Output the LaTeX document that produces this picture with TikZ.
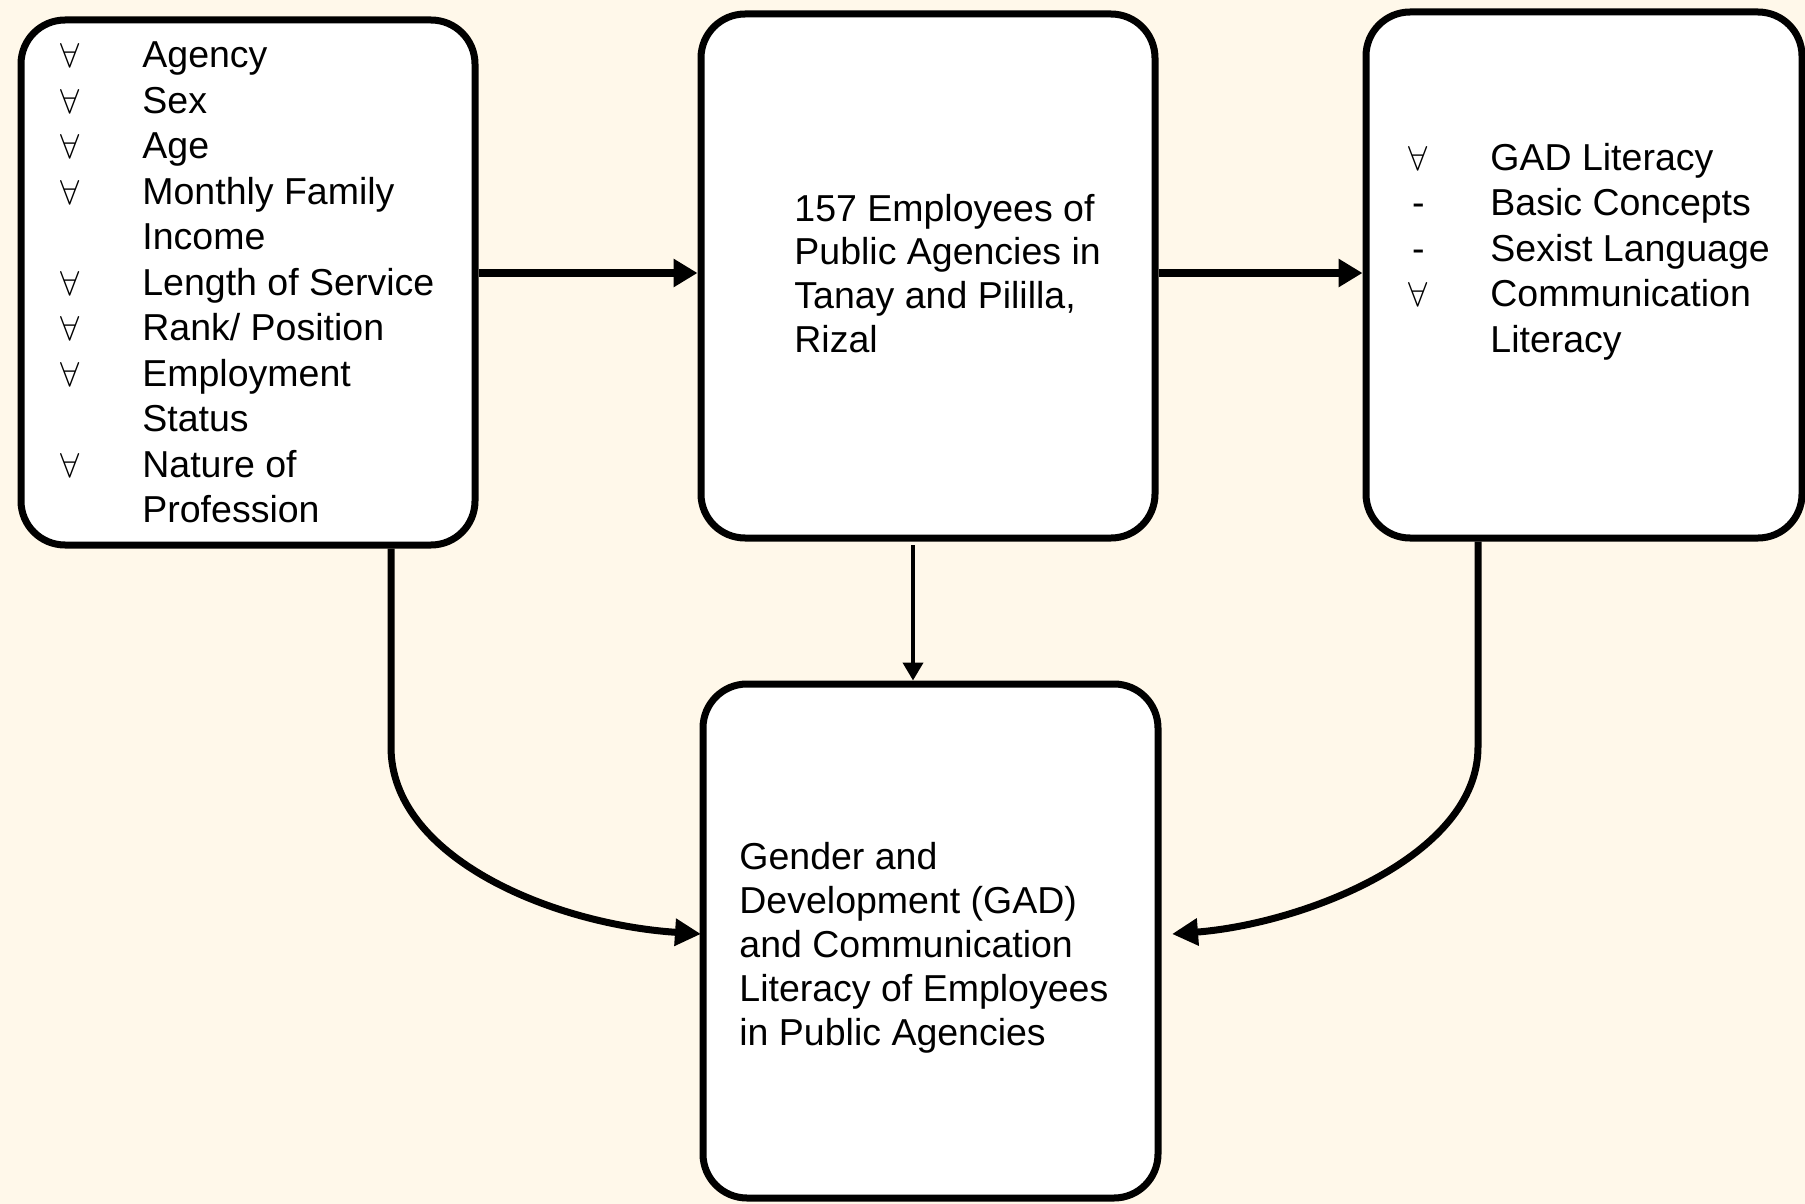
\documentclass[tikz,border=0pt]{standalone}
\usepackage{fontspec}
\setmainfont{Liberation Sans}
\usetikzlibrary{arrows.meta,calc}
\definecolor{bgcream}{HTML}{FFF8EA}
\newcommand{\fa}{\makebox[20pt][c]{$\forall$}}
\newcommand{\da}{\makebox[20pt][c]{-}}
\begin{document}
\begin{tikzpicture}[x=0.5pt,y=-0.5pt,
  box/.style={draw=black, line width=3.5pt, fill=white, rounded corners=22pt, inner sep=0pt},
  txt/.style={anchor=base west, inner sep=0pt, font=\fontsize{18.75pt}{22.75pt}\selectfont},
  arr/.style={line width=4pt, -{Triangle[length=12pt,width=13.5pt]}},
  carr/.style={line width=3.5pt, -{Triangle[length=13pt,width=13pt]}},
  varr/.style={line width=2pt, -{Triangle[length=9pt,width=10pt]}}
]
\fill[bgcream] (0,0) rectangle (1805,1204);
\useasboundingbox (0,0) rectangle (1805,1204);

\node[box, minimum width=227pt, minimum height=262.5pt] (L) at (248,282.5) {};
\node[box, minimum width=227pt, minimum height=262pt] (M) at (928,276) {};
\node[box, minimum width=218pt, minimum height=263pt] (R) at (1584,275) {};
\node[box, minimum width=227.5pt, minimum height=257pt] (B) at (930.5,941) {};

\node[txt] (Ltext) at (50,68) {\begin{tabular}[t]{@{}l@{\hspace{26pt}}l@{}}
\fa & Agency\\
\fa & Sex\\
\fa & Age\\
\fa & Monthly Family\\
    & Income\\
\fa & Length of Service\\
\fa & Rank/ Position\\
\fa & Employment\\
    & Status\\
\fa & Nature of\\
    & Profession
\end{tabular}};

\node[txt, font=\fontsize{18.75pt}{21.85pt}\selectfont] (Mtext) at (794,221) {\begin{tabular}[t]{@{}l@{}}
157 Employees of\\
Public Agencies in\\
Tanay and Pililla,\\
Rizal
\end{tabular}};

\node[txt, font=\fontsize{18.75pt}{22.8pt}\selectfont] (Rtext) at (1398,170) {\begin{tabular}[t]{@{}l@{\hspace{26pt}}l@{}}
\fa & GAD Literacy\\
\da & Basic Concepts\\
\da & Sexist Language\\
\fa & Communication\\
    & Literacy
\end{tabular}};

\node[txt, font=\fontsize{18.75pt}{22pt}\selectfont] (Btext) at (739,869) {\begin{tabular}[t]{@{}l@{}}
Gender and\\
Development (GAD)\\
and Communication\\
Literacy of Employees\\
in Public Agencies
\end{tabular}};

\coordinate (lbend) at (391,747);
\coordinate (lend) at (701,934);
\coordinate (rbend) at (1478,747);
\coordinate (rend) at (1172,934);
\coordinate (vx) at (913,545);

\draw[arr] (L.east |- 0,273) -- (M.west |- 0,273);
\draw[arr] (M.east |- 0,273) -- (R.west |- 0,273);
\draw[varr] (vx) -- (vx |- B.north);
\draw[carr] (L.south -| lbend) -- (lbend) .. controls +(0,110) and +(-150,-10) .. (lend);
\draw[carr] (R.south -| rbend) -- (rbend) .. controls +(0,110) and +(130,-10) .. (rend);
\end{tikzpicture}
\end{document}
